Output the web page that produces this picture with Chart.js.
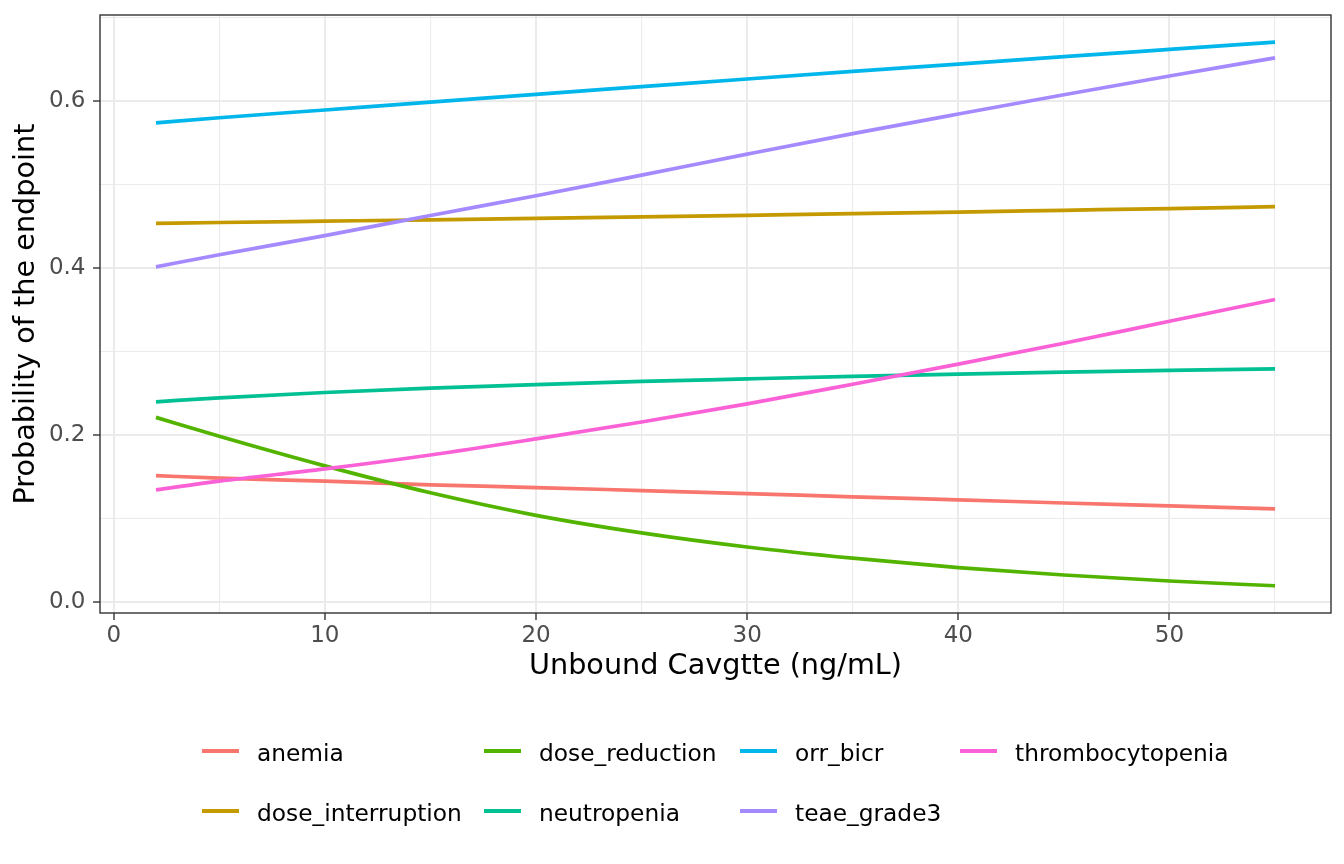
<!DOCTYPE html>
<html><head><meta charset="utf-8">
<script src="https://cdn.jsdelivr.net/npm/chart.js@4.4.0/dist/chart.umd.min.js"></script>
<style>
html,body{margin:0;padding:0;background:#fff;}
#wrap{position:relative;width:1344px;height:864px;overflow:hidden;}
#c{position:absolute;left:0;top:0;}
.lt{position:absolute;font-family:"DejaVu Sans";font-size:23.3px;color:#000;line-height:1;white-space:nowrap;}
.lk{position:absolute;height:3.8px;width:37px;}
</style></head><body>
<div id="wrap"><canvas id="c" width="1344" height="864"></canvas><div id="legend"></div></div>
<script>
// ---- data ----
const xValues = [2, 5, 10, 15, 20, 25, 30, 35, 40, 45, 50, 55];
const anemia = [0.1516, 0.1485, 0.1449, 0.1405, 0.1373, 0.1337, 0.1301, 0.1262, 0.1226, 0.1188, 0.1154, 0.1118];
const dose_interruption = [0.4536, 0.4546, 0.4562, 0.4578, 0.4595, 0.4613, 0.4632, 0.4651, 0.4671, 0.4692, 0.4713, 0.4735];
const dose_reduction = [0.2213, 0.1986, 0.1632, 0.1310, 0.1040, 0.0830, 0.0661, 0.0527, 0.0415, 0.0326, 0.0254, 0.0197];
const neutropenia = [0.2399, 0.2447, 0.2511, 0.2563, 0.2606, 0.2643, 0.2674, 0.2704, 0.2731, 0.2755, 0.2776, 0.2794];
const orr_bicr = [0.5738, 0.5800, 0.5893, 0.5986, 0.6080, 0.6172, 0.6264, 0.6354, 0.6443, 0.6531, 0.6618, 0.6705];
const teae_grade3 = [0.4015, 0.4160, 0.4389, 0.4630, 0.4866, 0.5113, 0.5364, 0.5610, 0.5845, 0.6075, 0.6300, 0.6517];
const thrombocytopenia = [0.1345, 0.1449, 0.1596, 0.1763, 0.1955, 0.2157, 0.2375, 0.2610, 0.2850, 0.3100, 0.3363, 0.3624];

const seriesNames = ["anemia", "dose_interruption", "dose_reduction", "neutropenia", "orr_bicr", "teae_grade3", "thrombocytopenia"];
const seriesValues = [anemia, dose_interruption, dose_reduction, neutropenia, orr_bicr, teae_grade3, thrombocytopenia];
const seriesColors = ["#F8766D", "#C49A00", "#53B400", "#00C094", "#00B6EB", "#A58AFF", "#FB61D7"];

const xTickValues = [0, 5, 10, 15, 20, 25, 30, 35, 40, 45, 50, 55];
const xMajorTicks = [0, 10, 20, 30, 40, 50];
const yTickValues = [0, 0.1, 0.2, 0.3, 0.4, 0.5, 0.6, 0.7];
const yMajorTicks = [0, 0.2, 0.4, 0.6];

const xTitle = "Unbound Cavgtte (ng/mL)";
const yTitle = "Probability of the endpoint";

// ---- chart ----
const FONT = "DejaVu Sans";
const isMajor = (list, v) => list.some(m => Math.abs(m - v) < 1e-9);

const datasets = seriesNames.map((name, i) => ({
  label: name,
  data: xValues.map((x, j) => ({x: x, y: seriesValues[i][j]})),
  borderColor: seriesColors[i],
  backgroundColor: seriesColors[i],
  borderWidth: 3.7,
  pointRadius: 0,
  pointHoverRadius: 0,
  fill: false,
  cubicInterpolationMode: 'monotone',
  order: seriesNames.length - i
}));

const borderPlugin = {
  id: 'panelBorder',
  afterDraw(chart) {
    const a = chart.chartArea, ctx = chart.ctx;
    ctx.save();
    ctx.strokeStyle = '#333333';
    ctx.lineWidth = 1.4;
    ctx.strokeRect(a.left, a.top, a.right - a.left, a.bottom - a.top);
    ctx.restore();
  }
};

function gridOpts(majors) {
  return {
    color: '#EBEBEB',
    lineWidth: (c) => (c.tick && isMajor(majors, c.tick.value)) ? 2 : 1.1,
    tickColor: (c) => (c.tick && isMajor(majors, c.tick.value)) ? '#333333' : 'rgba(0,0,0,0)',
    tickWidth: 1.4,
    tickLength: 7,
    drawTicks: true,
    drawOnChartArea: true
  };
}

new Chart(document.getElementById('c'), {
  type: 'line',
  data: { datasets: datasets },
  plugins: [borderPlugin],
  options: {
    responsive: false,
    animation: false,
    events: [],
    layout: { padding: { top: 15, right: 13, bottom: 180, left: 0 } },
    plugins: { legend: { display: false }, tooltip: { enabled: false }, title: { display: false } },
    scales: {
      x: {
        type: 'linear',
        min: -0.65, max: 57.65,
        afterBuildTicks: (s) => { s.ticks = xTickValues.map(v => ({value: v})); },
        afterFit: (s) => { s.height = 71; s.paddingLeft = 0; s.paddingRight = 0; },
        border: { display: false },
        grid: gridOpts(xMajorTicks),
        ticks: {
          autoSkip: false, maxRotation: 0,
          padding: 2.5,
          color: '#4D4D4D',
          font: { family: FONT, size: 23 },
          callback: (v) => isMajor(xMajorTicks, v) ? String(v) : ''
        },
        title: { display: true, text: xTitle, color: '#000000', font: { family: FONT, size: 28.7 }, padding: { top: 0, bottom: 0 } }
      },
      y: {
        type: 'linear',
        min: -0.0129, max: 0.703,
        afterBuildTicks: (s) => { s.ticks = yTickValues.map(v => ({value: v})); },
        afterFit: (s) => { s.width = 100; s.paddingTop = 0; s.paddingBottom = 0; },
        border: { display: false },
        grid: gridOpts(yMajorTicks),
        ticks: {
          autoSkip: false,
          padding: 7.5,
          color: '#4D4D4D',
          font: { family: FONT, size: 23 },
          callback: (v) => isMajor(yMajorTicks, v) ? v.toFixed(1) : ''
        },
        title: { display: true, text: yTitle, color: '#000000', font: { family: FONT, size: 28.7 }, padding: { top: 9.5, bottom: 0 } }
      }
    }
  }
});

// ---- legend (ggplot style, 2 rows filled by column) ----
const legendTextX = [257, 539, 795, 1015];
const legendRowKeyY = [751.3, 811];
const legendRowTextTop = [740.6, 800.6];
const leg = document.getElementById('legend');
seriesNames.forEach((name, i) => {
  const col = Math.floor(i / 2), row = i % 2;
  const k = document.createElement('div');
  k.className = 'lk';
  k.style.left = (legendTextX[col] - 55) + 'px';
  k.style.top = (legendRowKeyY[row] - 1.9) + 'px';
  k.style.background = seriesColors[i];
  leg.appendChild(k);
  const t = document.createElement('div');
  t.className = 'lt';
  t.style.left = legendTextX[col] + 'px';
  t.style.top = legendRowTextTop[row] + 'px';
  t.textContent = name;
  leg.appendChild(t);
});
</script>
</body></html>
